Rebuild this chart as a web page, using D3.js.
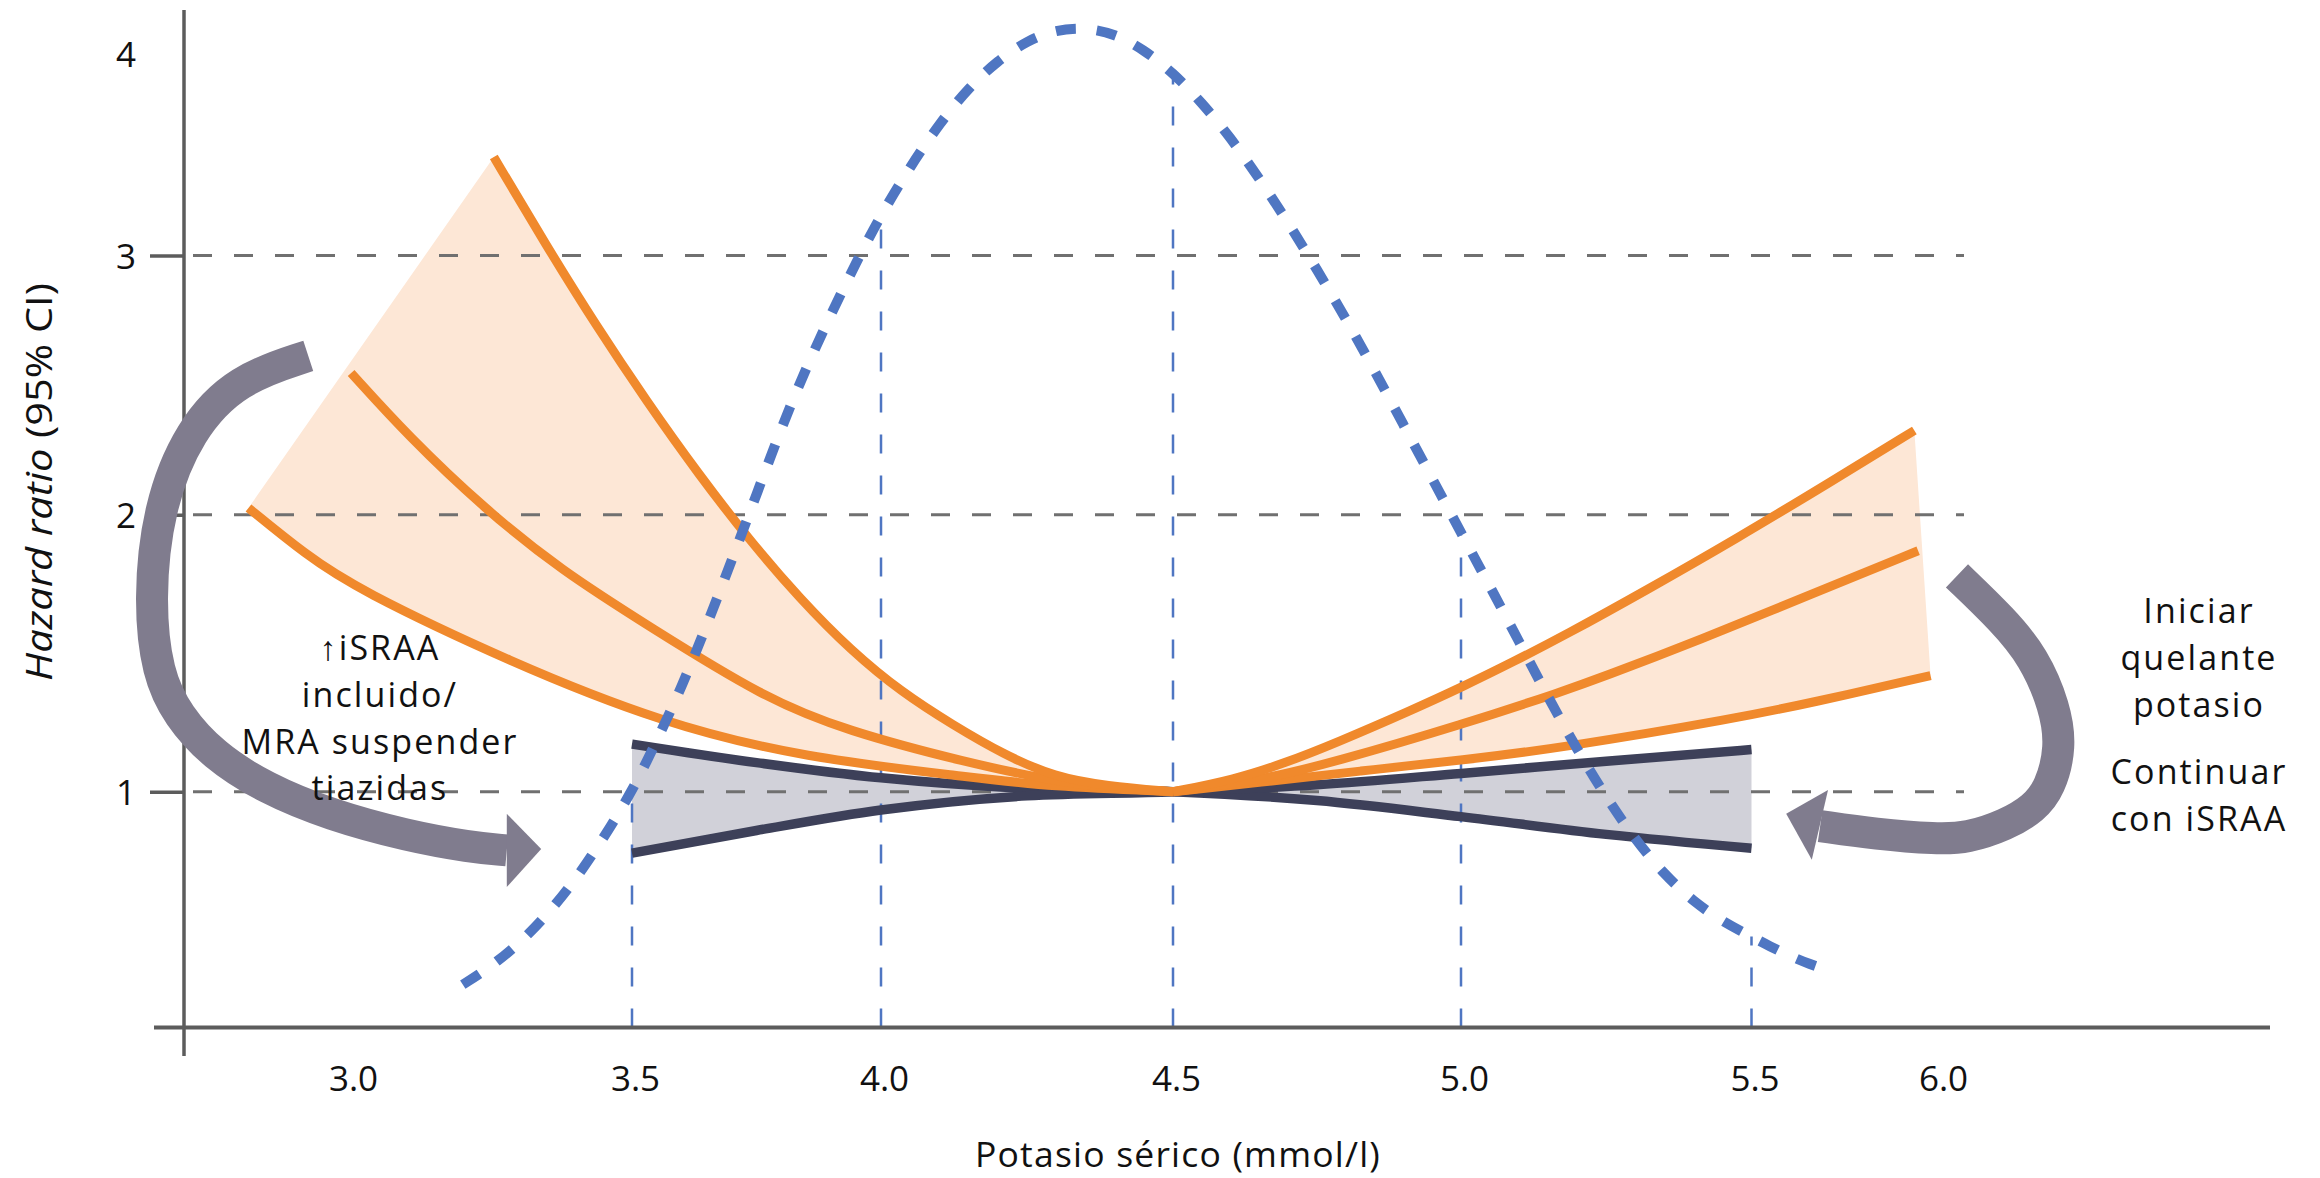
<!DOCTYPE html>
<html>
<head>
<meta charset="utf-8">
<script src="https://cdn.jsdelivr.net/npm/d3@7"></script>
<style>
  html, body { margin: 0; padding: 0; background: #ffffff; }
  svg { display: block; }
  text { font-family: "Open Sans", "Noto Sans", sans-serif; fill: #111111; }
</style>
</head>
<body>
<svg id="chart" width="2320" height="1178"></svg>
<script>
// ---- axis ticks ----
const xTicks = [3.0, 3.5, 4.0, 4.5, 5.0, 5.5, 6.0];
const yTicks = [1, 2, 3, 4];
const gridHR = [1, 2, 3];
const refPotassium = [3.5, 4.0, 4.5, 5.0, 5.5];

// ---- serum potassium distribution: [mmol/l, relative frequency] ----
const potassiumDist = [
  [3.20, 0.043], [3.25, 0.061], [3.30, 0.084], [3.35, 0.113], [3.40, 0.148],
  [3.45, 0.190], [3.50, 0.236], [3.55, 0.287], [3.60, 0.341], [3.65, 0.402],
  [3.70, 0.467], [3.75, 0.533], [3.80, 0.600], [3.85, 0.660], [3.90, 0.714],
  [3.95, 0.765], [4.00, 0.813], [4.05, 0.861], [4.10, 0.904], [4.15, 0.940],
  [4.20, 0.967], [4.25, 0.987], [4.30, 0.998], [4.35, 1.000], [4.40, 0.994],
  [4.45, 0.978], [4.50, 0.955], [4.55, 0.925], [4.60, 0.890], [4.65, 0.849],
  [4.70, 0.805], [4.75, 0.758], [4.80, 0.709], [4.85, 0.657], [4.90, 0.603],
  [4.95, 0.549], [5.00, 0.495], [5.05, 0.441], [5.10, 0.386], [5.15, 0.330],
  [5.20, 0.278], [5.25, 0.230], [5.30, 0.188], [5.35, 0.153], [5.40, 0.126],
  [5.45, 0.106], [5.50, 0.091], [5.55, 0.081], [5.60, 0.072], [5.65, 0.064],
  [5.72, 0.055]
];

// ---- hazard ratio curves with RAAS inhibitors: [mmol/l, HR] ----
const hrSteep = [
  [3.255, 3.488], [3.346, 3.059], [3.436, 2.731], [3.530, 2.436], [3.633, 2.158],
  [3.735, 1.910], [3.837, 1.697], [3.940, 1.509], [4.036, 1.358], [4.123, 1.241],
  [4.211, 1.133], [4.298, 1.053], [4.385, 1.021], [4.500, 1.000],
  [4.605, 1.043], [4.694, 1.103], [4.783, 1.176], [4.915, 1.295], [5.003, 1.379],
  [5.091, 1.470], [5.179, 1.565], [5.318, 1.726], [5.477, 1.917], [5.707, 2.124],
  [5.932, 2.325]
];
const hrMid = [
  [3.002, 2.547], [3.103, 2.304], [3.239, 2.022], [3.374, 1.800], [3.536, 1.595],
  [3.765, 1.339], [3.930, 1.220], [4.149, 1.104], [4.289, 1.042], [4.385, 1.013],
  [4.500, 1.000],
  [4.649, 1.040], [4.780, 1.107], [5.003, 1.243], [5.179, 1.365], [5.239, 1.410],
  [5.411, 1.548], [5.663, 1.715], [5.942, 1.870]
];
const hrShallow = [
  [2.820, 2.026], [2.922, 1.855], [3.012, 1.732], [3.284, 1.468], [3.560, 1.248],
  [3.847, 1.122], [4.149, 1.054], [4.289, 1.018], [4.500, 1.000],
  [4.649, 1.033], [4.826, 1.075], [5.003, 1.114], [5.179, 1.160], [5.476, 1.266],
  [5.655, 1.320], [5.975, 1.419]
];

// ---- reference band (no RAAS inhibitor) ----
const bandK = [3.50, 3.75, 4.00, 4.25, 4.50, 4.75, 5.00, 5.25, 5.50];
const bandFalling = [1.172, 1.105, 1.050, 1.012, 1.000, 0.968, 0.910, 0.846, 0.796];
const bandRising = [0.778, 0.860, 0.934, 0.985, 1.000, 1.025, 1.066, 1.110, 1.152];

// ---- curved guidance arrows: [mmol/l, HR] ----
const arrowLeft = [
  [2.926, 2.613], [2.800, 2.524], [2.715, 2.327], [2.660, 2.030], [2.644, 1.692],
  [2.658, 1.425], [2.695, 1.274], [2.757, 1.133], [2.849, 1.013], [2.965, 0.916],
  [3.103, 0.840], [3.213, 0.800], [3.278, 0.788]
];
const arrowLeftHead = [[3.278, 0.920], [3.339, 0.793], [3.278, 0.656]];
const arrowRight = [
  [6.045, 1.779], [6.167, 1.620], [6.249, 1.486], [6.305, 1.306], [6.321, 1.161],
  [6.292, 1.013], [6.249, 0.940], [6.175, 0.880], [6.072, 0.833], [5.992, 0.829],
  [5.830, 0.847], [5.682, 0.876]
];
const arrowRightHead = [[5.703, 1.006], [5.592, 0.920], [5.660, 0.754]];

// ---- annotation text ----
const noteLeft = ["\u2191iSRAA", "incluido/", "MRA suspender", "tiazidas"];
const noteRightTop = ["Iniciar", "quelante", "potasio"];
const noteRightBottom = ["Continuar", "con iSRAA"];

// ---- layout ----
const axisX = 184, axisY = 1027.6;
const svg = d3.select("#chart");

const x = d3.scaleLinear().domain(xTicks).range([350, 632, 881, 1173, 1461, 1751.5, 1940]);
const y = d3.scaleLinear().domain(yTicks).range([791.7, 514.7, 255.6, 53.6]);
const yFreq = d3.scaleLinear().domain([0, 1]).range([axisY, axisY - 1000]);

const COLORS = {
  orange: "#f0892c",
  orangeFill: "#fde7d6",
  band: "#d1d1d9",
  bandLine: "#3d4059",
  blue: "#4f76c2",
  grid: "#707070",
  axis: "#5c5c5c",
  arrow: "#807c8e"
};

// smooth B-spline through each branch (ends pinned)
const smooth = d3.line()
  .x(d => x(d[0])).y(d => y(d[1]))
  .curve(d3.curveBasis);

const leftOf = arr => arr.filter(d => d[0] <= 4.5);
const rightOf = arr => arr.filter(d => d[0] >= 4.5);

// shaded regions between steepest and flattest curves
function wedge(upper, lower) {
  const a = smooth(upper);
  const b = smooth(lower.slice().reverse());
  return a + b.replace(/^M/, "L") + "Z";
}

const gFill = svg.append("g");
gFill.append("path").attr("d", wedge(leftOf(hrSteep), leftOf(hrShallow))).attr("fill", COLORS.orangeFill);
gFill.append("path").attr("d", wedge(rightOf(hrSteep), rightOf(hrShallow))).attr("fill", COLORS.orangeFill);

const bandData = bandK.map((k, i) => ({ k, a: bandFalling[i], b: bandRising[i] }));
gFill.append("path")
  .datum(bandData)
  .attr("fill", COLORS.band)
  .attr("d", d3.area().x(d => x(d.k)).y0(d => y(d.a)).y1(d => y(d.b)).curve(d3.curveMonotoneX));

// horizontal grid lines
svg.append("g").selectAll("line").data(gridHR).join("line")
  .attr("x1", axisX + 9).attr("x2", 1964)
  .attr("y1", d => y(d)).attr("y2", d => y(d))
  .attr("stroke", COLORS.grid).attr("stroke-width", 3)
  .attr("stroke-dasharray", "19 22");

// vertical reference lines from the distribution down to the axis
const freqAt = k => potassiumDist.find(d => Math.abs(d[0] - k) < 1e-6)[1];
svg.append("g").selectAll("line").data(refPotassium).join("line")
  .attr("x1", d => x(d)).attr("x2", d => x(d))
  .attr("y1", axisY).attr("y2", d => yFreq(freqAt(d)))
  .attr("stroke", COLORS.blue).attr("stroke-width", 2.5)
  .attr("stroke-dasharray", "19 22");

// reference band borders
const bandLine = d3.line().x(d => x(d[0])).y(d => y(d[1])).curve(d3.curveMonotoneX);
[bandFalling, bandRising].forEach(vals => {
  svg.append("path")
    .datum(bandK.map((k, i) => [k, vals[i]]))
    .attr("d", bandLine)
    .attr("fill", "none").attr("stroke", COLORS.bandLine).attr("stroke-width", 9.5);
});

// HR curves, each branch drawn from the 4.5 mmol/l reference point
[hrShallow, hrMid, hrSteep].forEach(curve => {
  [leftOf(curve), rightOf(curve)].forEach(branch => {
    svg.append("path").datum(branch).attr("d", smooth)
      .attr("fill", "none").attr("stroke", COLORS.orange)
      .attr("stroke-width", 9).attr("stroke-linejoin", "round");
  });
});

// potassium distribution (dashed bell)
svg.append("path").datum(potassiumDist)
  .attr("d", d3.line().x(d => x(d[0])).y(d => yFreq(d[1])).curve(d3.curveBasis))
  .attr("fill", "none").attr("stroke", COLORS.blue)
  .attr("stroke-width", 10).attr("stroke-dasharray", "20 21");

// axes
const gy = svg.append("g").attr("transform", `translate(${axisX},0)`)
  .call(d3.axisLeft(y).tickValues(yTicks).tickSize(34).tickFormat(d3.format("d")));
gy.select(".domain").remove();
gy.selectAll(".tick line").attr("stroke", COLORS.axis).attr("stroke-width", 3.5)
  .filter(d => d === 4).remove();
gy.selectAll(".tick text")
  .attr("x", -58).attr("dy", "0.36em").attr("text-anchor", "middle")
  .style("font-family", "'Open Sans', sans-serif").style("font-size", "35px").attr("fill", "#111111");

const gx = svg.append("g").attr("transform", `translate(0,${axisY})`)
  .call(d3.axisBottom(x).tickValues(xTicks).tickSize(0).tickPadding(39).tickFormat(d3.format(".1f")));
gx.select(".domain").remove();
gx.selectAll(".tick text")
  .attr("dx", 3)
  .style("font-family", "'Open Sans', sans-serif").style("font-size", "35px").attr("fill", "#111111");

svg.append("line").attr("x1", axisX).attr("x2", axisX).attr("y1", 10).attr("y2", 1056)
  .attr("stroke", COLORS.axis).attr("stroke-width", 3.5);
svg.append("line").attr("x1", 154).attr("x2", 2270).attr("y1", axisY).attr("y2", axisY)
  .attr("stroke", COLORS.axis).attr("stroke-width", 4);

// axis titles
svg.append("text")
  .attr("x", 1178).attr("y", 1167)
  .attr("text-anchor", "middle").style("font-size", "35.5px").style("letter-spacing", "1.2px")
  .text("Potasio sérico (mmol/l)");

const yTitle = svg.append("text")
  .attr("transform", "translate(52,482) rotate(-90)")
  .attr("text-anchor", "middle").style("font-size", "36px")
  .attr("textLength", 398).attr("lengthAdjust", "spacingAndGlyphs");
yTitle.append("tspan").style("font-style", "italic").text("Hazard ratio");
yTitle.append("tspan").text(" (95% CI)");

// guidance arrows
const gArrow = svg.append("g");
[[arrowLeft, arrowLeftHead], [arrowRight, arrowRightHead]].forEach(([body, head]) => {
  gArrow.append("path").datum(body).attr("d", smooth)
    .attr("fill", "none").attr("stroke", COLORS.arrow).attr("stroke-width", 32);
  gArrow.append("path")
    .attr("d", d3.line().x(d => x(d[0])).y(d => y(d[1]))(head) + "Z")
    .attr("fill", COLORS.arrow);
});

// annotation text blocks: one text element per block, one tspan per line
function block(lines, cx, firstBaseline, step) {
  svg.append("text")
    .attr("text-anchor", "middle")
    .style("font-size", "34px").style("letter-spacing", "2.1px")
    .selectAll("tspan").data(lines).join("tspan")
    .attr("x", cx + 1).attr("y", (d, i) => firstBaseline + i * step)
    .text(d => d);
}
block(noteLeft, 379, 660, 46.8);
block(noteRightTop, 2198, 623, 46.8);
block(noteRightBottom, 2198, 784, 46.8);
</script>
</body>
</html>
